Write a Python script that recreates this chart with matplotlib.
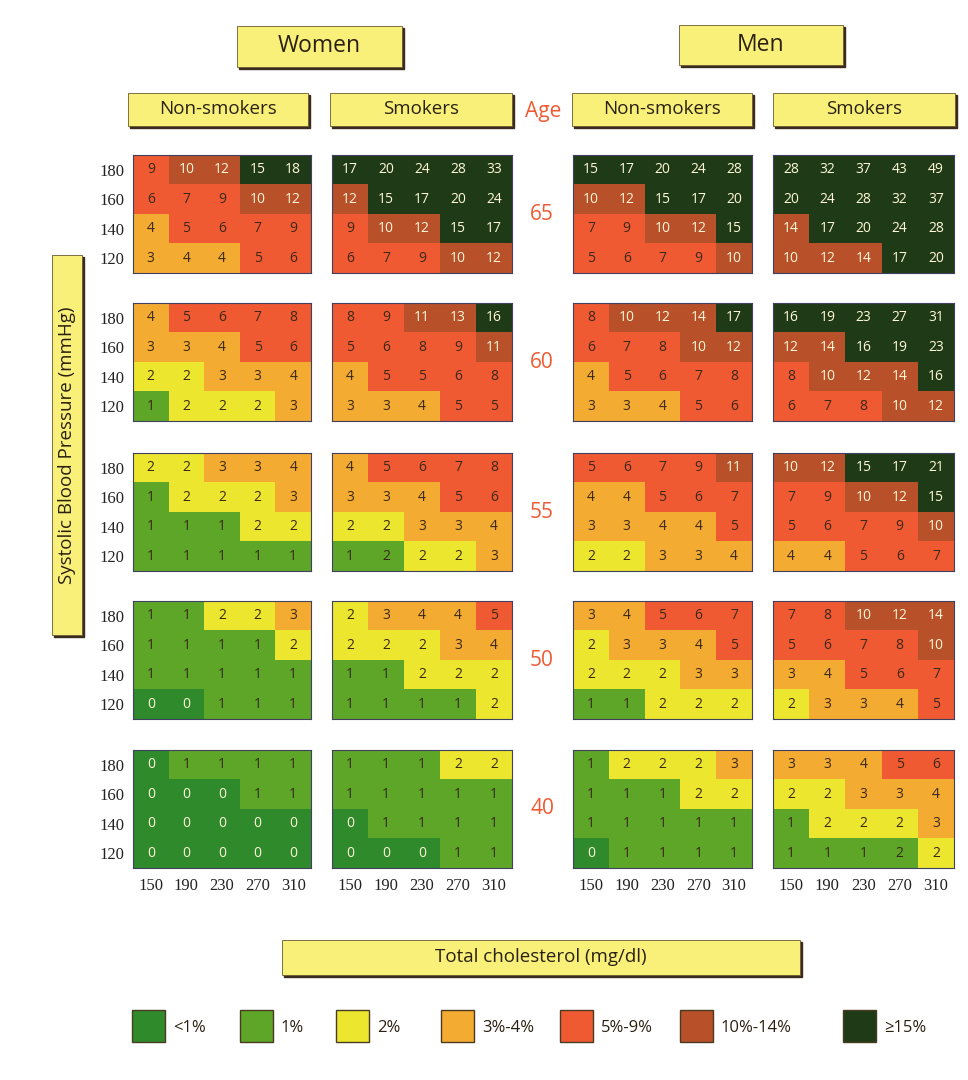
import matplotlib
matplotlib.use("Agg")
import matplotlib.pyplot as plt
import numpy as np
from matplotlib.colors import ListedColormap, BoundaryNorm
from matplotlib.patches import Rectangle

# ---- data (rows top to bottom: SBP 180, 160, 140, 120; cols: cholesterol) ----
sbp = [180, 160, 140, 120]
chol = [150, 190, 230, 270, 310]
ages = [65, 60, 55, 50, 40]

women_nonsmokers = {
    65: [[9, 10, 12, 15, 18], [6, 7, 9, 10, 12], [4, 5, 6, 7, 9], [3, 4, 4, 5, 6]],
    60: [[4, 5, 6, 7, 8], [3, 3, 4, 5, 6], [2, 2, 3, 3, 4], [1, 2, 2, 2, 3]],
    55: [[2, 2, 3, 3, 4], [1, 2, 2, 2, 3], [1, 1, 1, 2, 2], [1, 1, 1, 1, 1]],
    50: [[1, 1, 2, 2, 3], [1, 1, 1, 1, 2], [1, 1, 1, 1, 1], [0, 0, 1, 1, 1]],
    40: [[0, 1, 1, 1, 1], [0, 0, 0, 1, 1], [0, 0, 0, 0, 0], [0, 0, 0, 0, 0]],
}
women_smokers = {
    65: [[17, 20, 24, 28, 33], [12, 15, 17, 20, 24], [9, 10, 12, 15, 17], [6, 7, 9, 10, 12]],
    60: [[8, 9, 11, 13, 16], [5, 6, 8, 9, 11], [4, 5, 5, 6, 8], [3, 3, 4, 5, 5]],
    55: [[4, 5, 6, 7, 8], [3, 3, 4, 5, 6], [2, 2, 3, 3, 4], [1, 2, 2, 2, 3]],
    50: [[2, 3, 4, 4, 5], [2, 2, 2, 3, 4], [1, 1, 2, 2, 2], [1, 1, 1, 1, 2]],
    40: [[1, 1, 1, 2, 2], [1, 1, 1, 1, 1], [0, 1, 1, 1, 1], [0, 0, 0, 1, 1]],
}
men_nonsmokers = {
    65: [[15, 17, 20, 24, 28], [10, 12, 15, 17, 20], [7, 9, 10, 12, 15], [5, 6, 7, 9, 10]],
    60: [[8, 10, 12, 14, 17], [6, 7, 8, 10, 12], [4, 5, 6, 7, 8], [3, 3, 4, 5, 6]],
    55: [[5, 6, 7, 9, 11], [4, 4, 5, 6, 7], [3, 3, 4, 4, 5], [2, 2, 3, 3, 4]],
    50: [[3, 4, 5, 6, 7], [2, 3, 3, 4, 5], [2, 2, 2, 3, 3], [1, 1, 2, 2, 2]],
    40: [[1, 2, 2, 2, 3], [1, 1, 1, 2, 2], [1, 1, 1, 1, 1], [0, 1, 1, 1, 1]],
}
men_smokers = {
    65: [[28, 32, 37, 43, 49], [20, 24, 28, 32, 37], [14, 17, 20, 24, 28], [10, 12, 14, 17, 20]],
    60: [[16, 19, 23, 27, 31], [12, 14, 16, 19, 23], [8, 10, 12, 14, 16], [6, 7, 8, 10, 12]],
    55: [[10, 12, 15, 17, 21], [7, 9, 10, 12, 15], [5, 6, 7, 9, 10], [4, 4, 5, 6, 7]],
    50: [[7, 8, 10, 12, 14], [5, 6, 7, 8, 10], [3, 4, 5, 6, 7], [2, 3, 3, 4, 5]],
    40: [[3, 3, 4, 5, 6], [2, 2, 3, 3, 4], [1, 2, 2, 2, 3], [1, 1, 1, 2, 2]],
}
# cells whose colour in the chart differs from the printed value
colour_overrides = {
    ("women_smokers", 55): [(3, 1, 1)],
    ("men_smokers", 40): [(3, 3, 1)],
}

legend_labels = ["<1%", "1%", "2%", "3%-4%", "5%-9%", "10%-14%", "\u226515%"]
risk_colors = ["#2f8a2c", "#5da628", "#ece62e", "#f4ab32", "#f05a32", "#b8502a", "#1f3a16"]
light_text = [True, False, False, False, False, True, True]

panels = [("women_nonsmokers", women_nonsmokers), ("women_smokers", women_smokers),
          ("men_nonsmokers", men_nonsmokers), ("men_smokers", men_smokers)]

cmap = ListedColormap(risk_colors)
norm = BoundaryNorm([-0.5, 0.5, 1.5, 2.5, 4.5, 9.5, 14.5, 100], cmap.N)

W, H = 968, 1080
fig = plt.figure(figsize=(W / 100, H / 100), dpi=100)
fig.patch.set_facecolor("white")

num_font = ["Liberation Sans Narrow", "Open Sans", "DejaVu Sans"]
label_font = ["Liberation Sans Narrow", "Open Sans", "DejaVu Sans"]
serif = ["Liberation Serif", "DejaVu Serif"]


def px_axes(x0, y0, x1, y1):
    return fig.add_axes([x0 / W, 1 - y1 / H, (x1 - x0) / W, (y1 - y0) / H])


# overlay for boxes / labels, in pixel coords
ov = fig.add_axes([0, 0, 1, 1])
ov.set_xlim(0, W)
ov.set_ylim(H, 0)
ov.axis("off")


def box(x0, y0, x1, y1, text, size, rot=0):
    ov.add_patch(Rectangle((x0 + 1.5, y0 + 1.5), x1 - x0, y1 - y0, color="#3a2a20", zorder=1))
    ov.add_patch(Rectangle((x0, y0), x1 - x0, y1 - y0, facecolor="#f9f07a",
                           edgecolor="#6a5a30", lw=0.6, zorder=2))
    ov.text((x0 + x1) / 2, (y0 + y1) / 2, text, ha="center", va="center",
            fontsize=size, family=label_font, color="#2a2010", rotation=rot, zorder=3)


box(237, 26, 402, 67, "Women", 16.5)
box(679, 25, 843, 65, "Men", 16.5)
for (x0, x1), lab in zip([(128, 308), (330, 512), (572, 752), (773, 955)],
                         ["Non-smokers", "Smokers", "Non-smokers", "Smokers"]):
    box(x0, 93, x1, 126, lab, 13.5)
ov.text(543, 112, "Age", ha="center", va="center", fontsize=15, family=label_font,
        color="#f05a32")
box(52, 255, 82, 635, "Systolic Blood Pressure (mmHg)", 13.5, rot=90)
box(282, 940, 800, 975, "Total cholesterol (mg/dl)", 13.5)

# panels
panel_x = [(133, 311), (332, 512), (573, 752), (773, 954)]
panel_top = [155, 303, 453, 601, 750]
panel_h = 118

for r, age in enumerate(ages):
    y0 = panel_top[r]
    for c, (name, data) in enumerate(panels):
        x0, x1 = panel_x[c]
        ax = px_axes(x0, y0, x1, y0 + panel_h)
        vals = np.array(data[age])
        cat = vals.astype(float).copy()
        for (i, j, v) in colour_overrides.get((name, age), []):
            cat[i, j] = v
        ax.imshow(cat, cmap=cmap, norm=norm, aspect="auto", interpolation="nearest")
        idx = np.digitize(cat, [0.5, 1.5, 2.5, 4.5, 9.5, 14.5])
        for i in range(vals.shape[0]):
            for j in range(vals.shape[1]):
                col = "#fff8d8" if light_text[idx[i, j]] else "#3a2818"
                ax.text(j, i, str(vals[i, j]), ha="center", va="center",
                        fontsize=10, family=num_font, color=col)
        for s in ax.spines.values():
            s.set_color("#404060")
            s.set_linewidth(0.8)
        ax.tick_params(length=0, pad=6)
        if c == 0:
            ax.set_yticks(range(len(sbp)))
            ax.set_yticklabels([str(v) for v in sbp], family=serif, fontsize=12,
                               color="#222222")
        else:
            ax.set_yticks([])
        if r == len(ages) - 1:
            ax.set_xticks(range(len(chol)))
            ax.set_xticklabels([str(v) for v in chol], family=serif, fontsize=12,
                               color="#222222")
            ax.tick_params(axis="x", pad=7)
        else:
            ax.set_xticks([])
    ov.text(542, y0 + panel_h / 2, str(age), ha="center", va="center", fontsize=15,
            family=label_font, color="#f05a32")

# legend
leg_x = [132, 240, 336, 441, 560, 680, 843]
for k, (lx, lab) in enumerate(zip(leg_x, legend_labels)):
    ov.add_patch(Rectangle((lx, 1010), 33, 32, facecolor=risk_colors[k],
                           edgecolor="#4a3a20", lw=1.0))
    ov.text(lx + 41, 1028, lab, ha="left", va="center", fontsize=12,
            family=label_font, color="#2a2010")

fig.savefig("out.png", dpi=100)
